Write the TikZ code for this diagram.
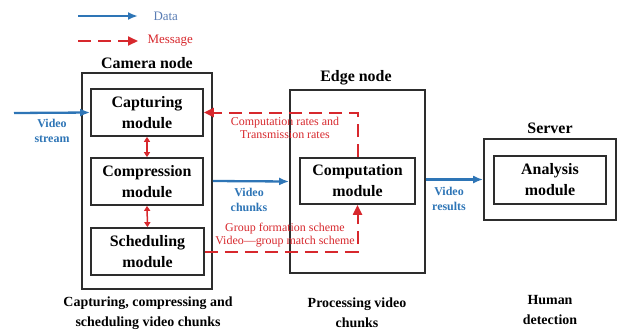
\documentclass[tikz,border=0pt]{standalone}
\usepackage{fontspec}
\setmainfont{Liberation Serif}
\usetikzlibrary{arrows.meta}
\definecolor{datablue}{RGB}{46,117,182}
\definecolor{legblue}{RGB}{90,125,180}
\definecolor{msgred}{RGB}{215,40,45}
\definecolor{boxgray}{RGB}{45,45,45}
\tikzset{
  outerbox/.style={draw=boxgray, line width=1.7bp, inner sep=0pt},
  modbox/.style={draw=boxgray, line width=1.7bp, inner sep=0pt, align=center,
    font=\fontsize{16}{21}\selectfont\bfseries},
  title/.style={font=\fontsize{16}{19}\selectfont\bfseries},
  caption/.style={align=center, font=\fontsize{14}{20}\selectfont\bfseries},
  datalabel/.style={align=center, text=datablue, font=\fontsize{12}{15}\selectfont\bfseries},
  msglabel/.style={align=center, text=msgred, font=\fontsize{12}{13}\selectfont},
  data/.style={draw=datablue, line width=2.3bp, -{Latex[length=10bp,width=8bp]}},
  msg/.style={draw=msgred, line width=2bp, dash pattern=on 13bp off 7bp,
    -{Triangle[length=10bp,width=9bp,fill=msgred]}},
  link/.style={draw=msgred, line width=1.5bp,
    {Triangle[length=5bp,width=6bp]}-{Triangle[length=5bp,width=6bp]}}
}
\begin{document}
\begin{tikzpicture}[x=1bp,y=-1bp]
\useasboundingbox (0,0) rectangle (623,334);

% legend
\coordinate (ld0) at (78,16);  \coordinate (ld1) at (138,16);
\coordinate (lm0) at (78,41);  \coordinate (lm1) at (138,41);
\draw[data] (ld0) -- (ld1);
\draw[msg] (lm0) -- (lm1);
\node[anchor=west, text=legblue, font=\fontsize{13}{15}\selectfont] (ldt) at (150,16) {Data};
\node[anchor=west, text=msgred, font=\fontsize{13}{15}\selectfont] (lmt) at (144,41) {Message};

% camera node
\node[title] (camt) at (147,63) {Camera node};
\node[outerbox, minimum width=130bp, minimum height=216bp] (cam) at (147,181) {};
\node[modbox, minimum width=112bp, minimum height=47bp] (cap) at (147,112.5) {Capturing\\module};
\node[modbox, minimum width=112bp, minimum height=47bp] (cmp) at (147,181.5) {Compression\\module};
\node[modbox, minimum width=113bp, minimum height=47bp] (sch) at (147.5,251.5) {Scheduling\\module};
\draw[link] (cap.south) -- (cmp.north);
\draw[link] (cmp.south) -- (sch.north);

% edge node
\node[title] (edget) at (356,78) {Edge node};
\node[outerbox, minimum width=135bp, minimum height=183bp] (edge) at (357.5,181.5) {};
\node[modbox, minimum width=115bp, minimum height=46bp] (comp) at (357.5,181) {Computation\\module};

% server
\node[title] (srvt) at (550,128) {Server};
\node[outerbox, minimum width=132bp, minimum height=81bp] (srv) at (550,179.5) {};
\node[modbox, minimum width=112bp, minimum height=48bp] (ana) at (550,180) {Analysis\\module};

% data flow
\coordinate (vin) at (14,113);
\draw[data] (vin) -- (cap.west);
\node[datalabel] (vst) at (52,131) {Video\\stream};
\draw[data] (cam.east) -- (edge.west);
\node[datalabel] (vch) at (249,200) {Video\\chunks};
\draw[data] (edge.east |- srv.west) -- (srv.west);
\node[datalabel] (vrs) at (449,199) {Video\\results};

% messages
\draw[msg] (comp.north) |- (cap.east);
\node[msglabel] (rates) at (285,128) {Computation rates and\\Transmission rates};
\draw[msg] (sch.east) -| (comp.south);
\node[msglabel] (grp) at (285,235) {Group formation scheme\\Video—group match scheme};

% captions
\node[caption] (c1) at (148,313) {Capturing, compressing and\\scheduling video chunks};
\node[caption] (c2) at (357,313) {Processing video\\chunks};
\node[caption] (c3) at (550,310) {Human\\detection};
\end{tikzpicture}
\end{document}
